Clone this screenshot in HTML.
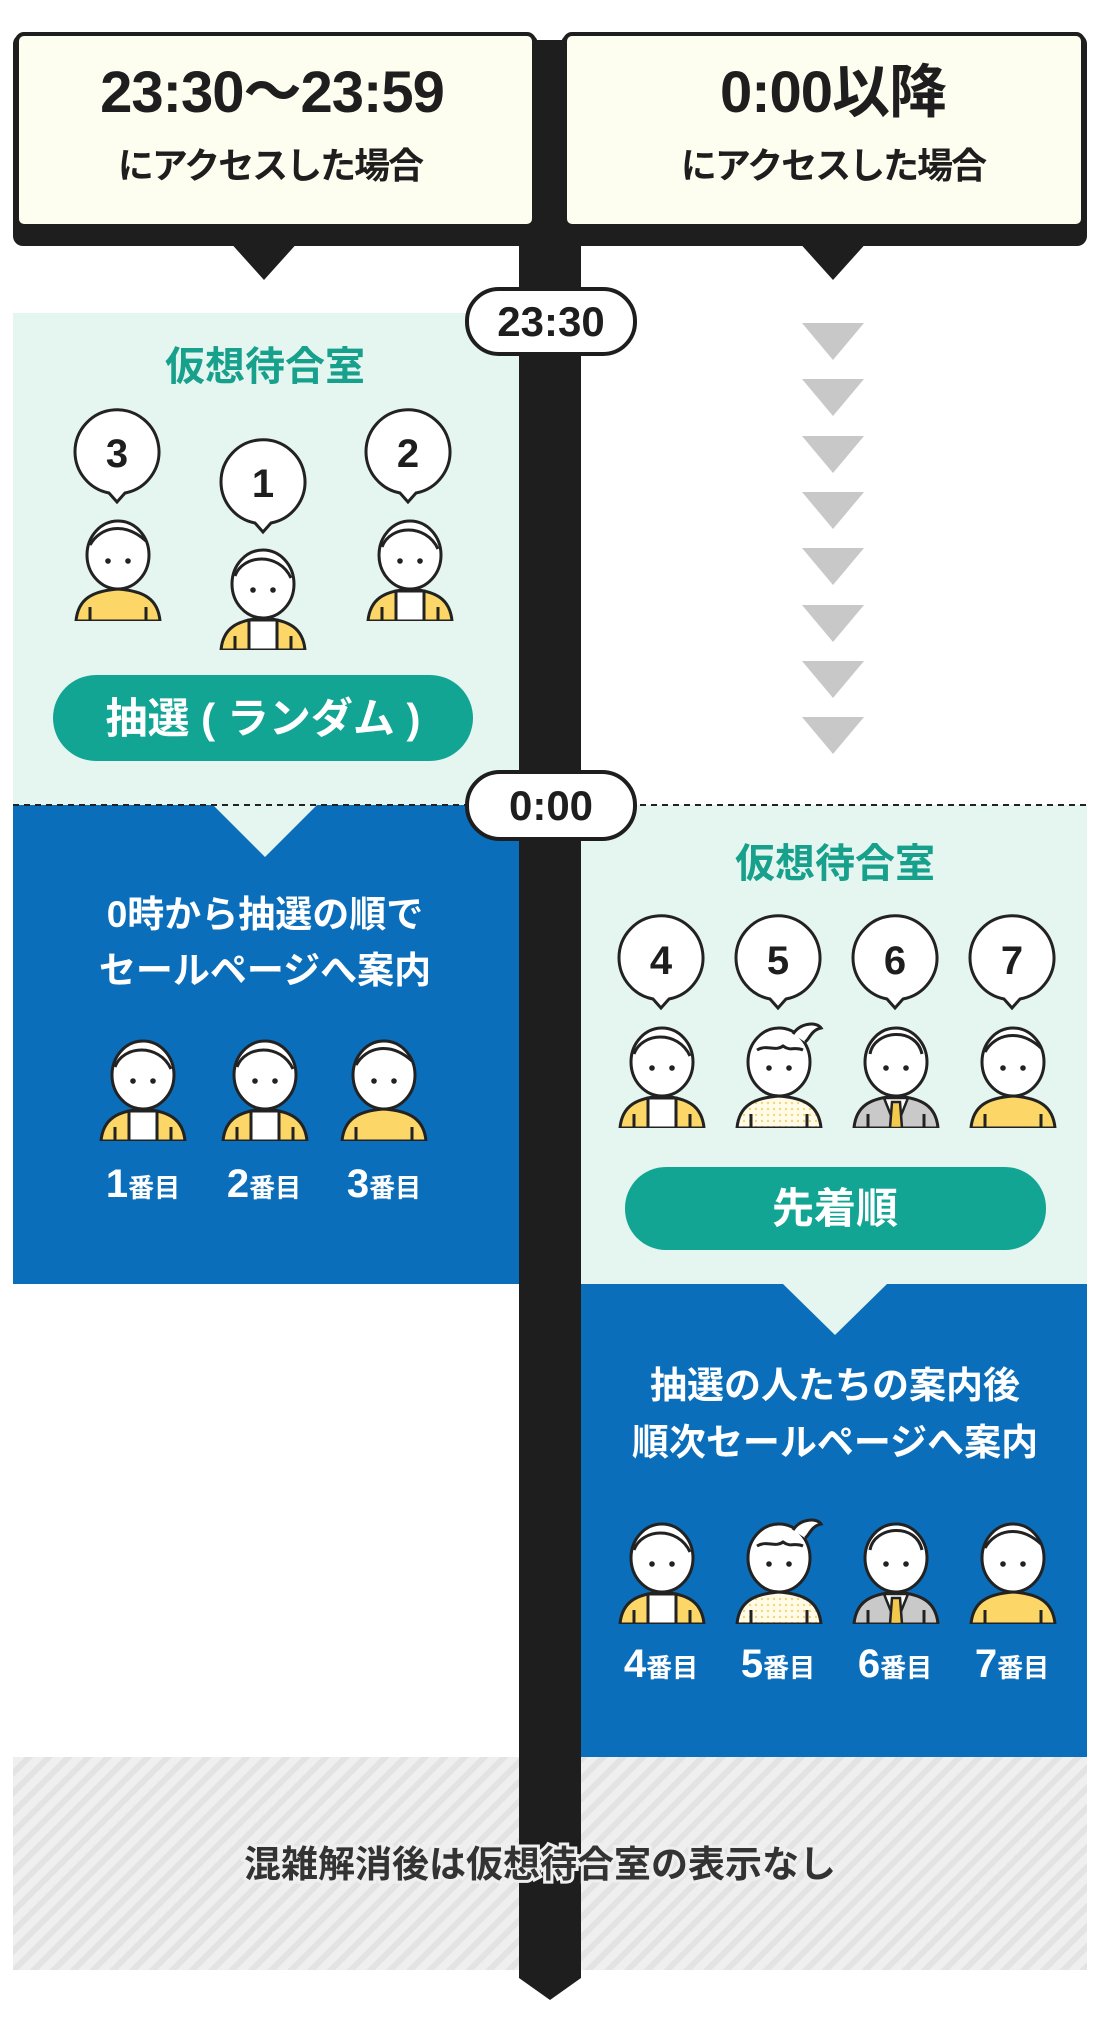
<!DOCTYPE html>
<html><head><meta charset="utf-8"><style>
html,body{margin:0;padding:0;background:#fff;}
svg{display:block;}
text{font-family:"Liberation Sans","Noto Sans CJK JP",sans-serif;font-weight:700;}
</style></head><body>
<svg width="1100" height="2027" viewBox="0 0 1100 2027" xmlns="http://www.w3.org/2000/svg">
<defs>
<pattern id="st" width="14" height="14" patternUnits="userSpaceOnUse" patternTransform="rotate(45)">
<rect width="14" height="14" fill="#efefef"/><rect width="6" height="14" fill="#e3e3e3"/></pattern>
<pattern id="dots" width="6" height="6" patternUnits="userSpaceOnUse"><rect width="6" height="6" fill="#fffbe8"/><circle cx="3" cy="3" r="1.2" fill="#f3d774"/></pattern>
<g id="head">
<ellipse cx="44" cy="40" rx="31" ry="34" fill="#fff" stroke="#222" stroke-width="3"/>
<circle cx="34" cy="46" r="2.8" fill="#222"/><circle cx="54" cy="46" r="2.8" fill="#222"/>
</g>
<symbol id="py" viewBox="0 0 88 106"><path d="M2,106 C4,84 18,76 44,74 C70,76 84,84 86,106 Z" fill="#fcd667" stroke="#222" stroke-width="3"/><path d="M16,92 V106 M72,92 V106" stroke="#222" stroke-width="3"/><use href="#head"/><path d="M16,30 C26,12 50,6 72,26" fill="none" stroke="#222" stroke-width="3"/></symbol>
<symbol id="pw" viewBox="0 0 88 106"><path d="M2,106 C4,84 18,76 44,74 C70,76 84,84 86,106 Z" fill="#fcd667" stroke="#222" stroke-width="3"/><rect x="30" y="76" width="28" height="30" fill="#fff" stroke="#222" stroke-width="3"/><path d="M16,92 V106 M72,92 V106" stroke="#222" stroke-width="3"/><use href="#head"/><path d="M16,32 C24,10 60,8 72,34" fill="none" stroke="#222" stroke-width="3"/></symbol>
<symbol id="pd" viewBox="0 0 88 106"><path d="M2,106 C4,84 18,76 44,74 C70,76 84,84 86,106 Z" fill="url(#dots)" stroke="#222" stroke-width="3"/><path d="M16,92 V106 M72,92 V106" stroke="#222" stroke-width="3"/><use href="#head"/><path d="M22,28 C32,22 40,30 48,24 C56,30 60,24 68,28" fill="none" stroke="#222" stroke-width="3"/><path d="M58,12 C66,0 82,0 86,6 C76,8 74,18 70,20" fill="#fff" stroke="#222" stroke-width="3"/></symbol>
<symbol id="pg" viewBox="0 0 88 106"><path d="M2,106 C4,84 18,76 44,74 C70,76 84,84 86,106 Z" fill="#c9c9c9" stroke="#222" stroke-width="3"/><path d="M32,76 L44,106 L56,76 Z" fill="#fff" stroke="#222" stroke-width="2.5"/><path d="M40,80 H48 L50,106 H38 Z" fill="#f2c94c" stroke="#222" stroke-width="2.5"/><path d="M16,92 V106 M72,92 V106" stroke="#222" stroke-width="3"/><use href="#head"/><path d="M18,32 C22,8 64,4 70,32" fill="none" stroke="#222" stroke-width="3"/></symbol>
<g id="bub"><path d="M-42,0 A42,42 0 1 1 8,41 L0,50 L-8,41 A42,42 0 0 1 -42,0 Z" fill="#fff" stroke="#222" stroke-width="3"/></g>
</defs>

<rect x="13" y="313" width="506" height="492" fill="#e5f5ef"/>
<rect x="13" y="805" width="506" height="479" fill="#0a6ebb"/>
<path d="M213,805 L265,857 L317,805 Z" fill="#e5f5ef"/>
<rect x="580" y="805" width="507" height="479" fill="#e5f5ef"/>
<rect x="580" y="1284" width="507" height="473" fill="#0a6ebb"/>
<path d="M783,1284 L835,1335 L887,1284 Z" fill="#e5f5ef"/>
<rect x="13" y="1757" width="1074" height="213" fill="url(#st)"/>
<line x1="13" y1="805" x2="1087" y2="805" stroke="#222" stroke-width="2" stroke-dasharray="6,5"/>

<path d="M519,40 H581 V1978 L550,2000 L519,1978 Z" fill="#1e1e1e"/>

<rect x="13" y="34" width="525" height="212" rx="10" fill="#1e1e1e"/>
<path d="M228,240 L264,280 L300,240 Z" fill="#1e1e1e"/>
<rect x="17" y="34" width="517" height="192" rx="7" fill="#fdfdf0" stroke="#1e1e1e" stroke-width="4"/>
<rect x="561" y="34" width="526" height="212" rx="10" fill="#1e1e1e"/>
<path d="M797,240 L833,280 L869,240 Z" fill="#1e1e1e"/>
<rect x="565" y="34" width="518" height="192" rx="7" fill="#fdfdf0" stroke="#1e1e1e" stroke-width="4"/>
<text x="272" y="112" font-size="58" text-anchor="middle" fill="#1e1e1e" letter-spacing="-1">23:30〜23:59</text>
<text x="270" y="178" font-size="36" text-anchor="middle" fill="#1e1e1e" letter-spacing="-2">にアクセスした場合</text>
<text x="833" y="112" font-size="58" text-anchor="middle" fill="#1e1e1e" letter-spacing="-1">0:00以降</text>
<text x="833" y="178" font-size="36" text-anchor="middle" fill="#1e1e1e" letter-spacing="-2">にアクセスした場合</text>

<rect x="467" y="289" width="168" height="65" rx="32" fill="#fff" stroke="#1e1e1e" stroke-width="4"/>
<text x="551" y="336" font-size="42" text-anchor="middle" fill="#1e1e1e" font-weight="400">23:30</text>
<rect x="467" y="772" width="168" height="67" rx="33" fill="#fff" stroke="#1e1e1e" stroke-width="4"/>
<text x="551" y="820" font-size="42" text-anchor="middle" fill="#1e1e1e">0:00</text>

<g fill="#c8c8c8">
<path d="M802,323 H864 L833,360 Z"/><path d="M802,379 H864 L833,416 Z"/><path d="M802,436 H864 L833,473 Z"/><path d="M802,492 H864 L833,529 Z"/>
<path d="M802,548 H864 L833,585 Z"/><path d="M802,605 H864 L833,642 Z"/><path d="M802,661 H864 L833,698 Z"/><path d="M802,717 H864 L833,754 Z"/>
</g>

<text x="265" y="380" font-size="40" text-anchor="middle" fill="#17a08b">仮想待合室</text>
<use href="#bub" x="117" y="452"/><text x="117" y="467" font-size="40" text-anchor="middle" fill="#1e1e1e">3</text>
<use href="#bub" x="263" y="482"/><text x="263" y="497" font-size="40" text-anchor="middle" fill="#1e1e1e">1</text>
<use href="#bub" x="408" y="452"/><text x="408" y="467" font-size="40" text-anchor="middle" fill="#1e1e1e">2</text>
<use href="#py" x="70" y="515" width="96" height="106"/>
<use href="#pw" x="215" y="544" width="96" height="106"/>
<use href="#pw" x="362" y="515" width="96" height="106"/>
<rect x="53" y="675" width="420" height="86" rx="43" fill="#12a594"/>
<text x="263" y="733" font-size="42" text-anchor="middle" fill="#fff">抽選 ( ランダム )</text>

<text x="265" y="927" font-size="37" text-anchor="middle" fill="#fff">0時から抽選の順で</text>
<text x="265" y="983" font-size="37" text-anchor="middle" fill="#fff">セールページへ案内</text>
<use href="#pw" x="95" y="1035" width="96" height="106"/>
<use href="#pw" x="217" y="1035" width="96" height="106"/>
<use href="#py" x="336" y="1035" width="96" height="106"/>
<g fill="#fff"><text x="143" y="1197" text-anchor="middle"><tspan font-size="40">1</tspan><tspan font-size="26">番目</tspan></text>
<text x="264" y="1197" text-anchor="middle"><tspan font-size="40">2</tspan><tspan font-size="26">番目</tspan></text>
<text x="384" y="1197" text-anchor="middle"><tspan font-size="40">3</tspan><tspan font-size="26">番目</tspan></text></g>

<text x="835" y="877" font-size="40" text-anchor="middle" fill="#17a08b">仮想待合室</text>
<use href="#bub" x="661" y="958"/><text x="661" y="974" font-size="40" text-anchor="middle" fill="#1e1e1e">4</text>
<use href="#bub" x="778" y="958"/><text x="778" y="974" font-size="40" text-anchor="middle" fill="#1e1e1e">5</text>
<use href="#bub" x="895" y="958"/><text x="895" y="974" font-size="40" text-anchor="middle" fill="#1e1e1e">6</text>
<use href="#bub" x="1012" y="958"/><text x="1012" y="974" font-size="40" text-anchor="middle" fill="#1e1e1e">7</text>
<use href="#pw" x="616" y="1022" width="92" height="106"/>
<use href="#pd" x="733" y="1022" width="92" height="106"/>
<use href="#pg" x="850" y="1022" width="92" height="106"/>
<use href="#py" x="967" y="1022" width="92" height="106"/>
<rect x="625" y="1167" width="421" height="83" rx="41" fill="#12a594"/>
<text x="835" y="1223" font-size="42" text-anchor="middle" fill="#fff">先着順</text>

<text x="835" y="1398" font-size="37" text-anchor="middle" fill="#fff">抽選の人たちの案内後</text>
<text x="835" y="1455" font-size="37" text-anchor="middle" fill="#fff">順次セールページへ案内</text>
<use href="#pw" x="616" y="1518" width="92" height="106"/>
<use href="#pd" x="733" y="1518" width="92" height="106"/>
<use href="#pg" x="850" y="1518" width="92" height="106"/>
<use href="#py" x="967" y="1518" width="92" height="106"/>
<g fill="#fff"><text x="661" y="1677" text-anchor="middle"><tspan font-size="40">4</tspan><tspan font-size="26">番目</tspan></text>
<text x="778" y="1677" text-anchor="middle"><tspan font-size="40">5</tspan><tspan font-size="26">番目</tspan></text>
<text x="895" y="1677" text-anchor="middle"><tspan font-size="40">6</tspan><tspan font-size="26">番目</tspan></text>
<text x="1012" y="1677" text-anchor="middle"><tspan font-size="40">7</tspan><tspan font-size="26">番目</tspan></text></g>

<text x="540" y="1877" font-size="37" text-anchor="middle" fill="#333" stroke="#efefef" stroke-width="6" paint-order="stroke">混雑解消後は仮想待合室の表示なし</text>
</svg>
</body></html>
